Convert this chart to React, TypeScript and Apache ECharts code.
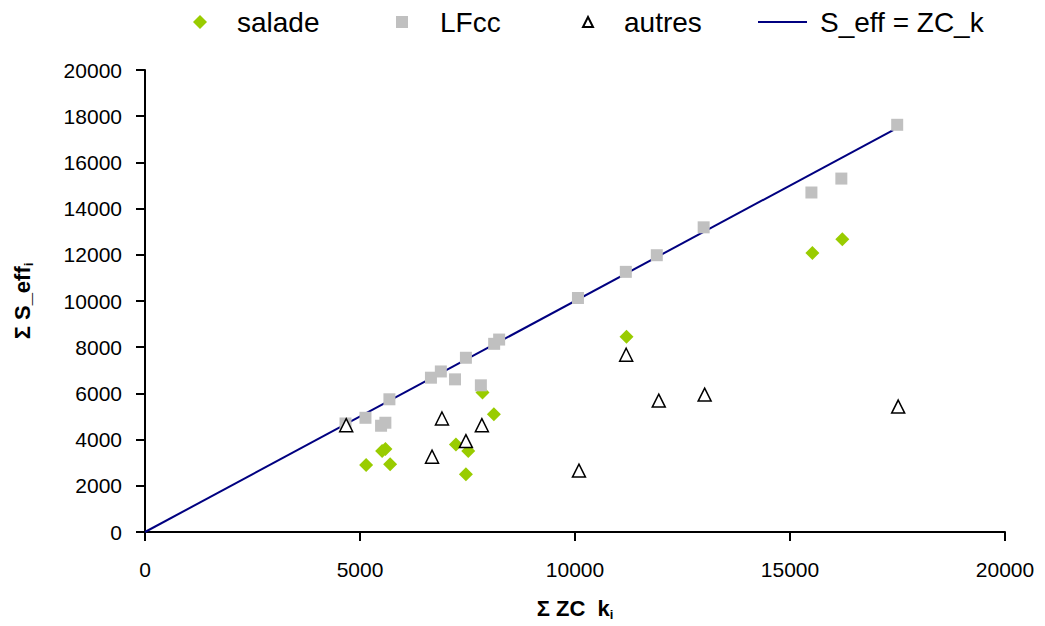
import React, { useEffect, useRef } from "react";
import * as echarts from "echarts";

const saladeData: number[][] = [
  [5143, 2901], [5700, 2931], [5591, 3590], [5514, 3504], [7231, 3793], [7517, 3504],
  [7463, 2500], [8113, 5099], [7849, 6034], [11198, 8448], [16217, 12671], [15521, 12081],
];
const lfccData: number[][] = [
  [4663, 4698], [5127, 4944], [5490, 4600], [5590, 4730], [5684, 5745], [6650, 6680],
  [6880, 6950], [7210, 6608], [7463, 7543], [7811, 6350], [8120, 8146], [8236, 8331],
  [10069, 10130], [11182, 11262], [11902, 11982], [12992, 13189], [15498, 14697],
  [16194, 15300], [17493, 17628],
];
const autresData: number[][] = [
  [4679, 4625], [6906, 4913], [7834, 4625], [7463, 3935], [6675, 3262], [11190, 7672],
  [11948, 5689], [13015, 5948], [17516, 5431], [10092, 2659],
];
const lineData: number[][] = [[0, 0], [17400, 17400]];
const seriesNames = ["salade", "LFcc", "autres", "S_eff = ZC_k"];

const FONT = "'Liberation Sans', Arial, sans-serif";

export default function App() {
  const ref = useRef<HTMLDivElement>(null);
  useEffect(() => {
    if (!ref.current) return;
    const chart = echarts.init(ref.current, undefined, { renderer: "svg" });
    const txt = (pad: number) => ({
      fontFamily: FONT,
      fontSize: 28,
      color: "#000",
      padding: [0, 0, 0, pad],
    });
    const legendBase = { top: 3, selectedMode: false };
    const titleRich = {
      b: { fontFamily: FONT, fontSize: 22, fontWeight: "bold", color: "#000" },
      s: { fontFamily: FONT, fontSize: 13, fontWeight: "bold", color: "#000", padding: [12, 0, 0, 0] },
    };
    chart.setOption({
      animation: false,
      backgroundColor: "#fff",
      textStyle: { fontFamily: FONT },
      legend: [
        { ...legendBase, left: 188, itemWidth: 14, itemHeight: 14, textStyle: txt(25), data: [seriesNames[0]] },
        { ...legendBase, left: 391, itemWidth: 12, itemHeight: 12, textStyle: txt(27), data: [seriesNames[1]] },
        { ...legendBase, left: 577, itemWidth: 10, itemHeight: 10, textStyle: txt(26), data: [seriesNames[2]] },
        {
          ...legendBase,
          left: 753,
          itemWidth: 49,
          itemHeight: 14,
          textStyle: txt(8),
          data: [{ name: seriesNames[3], icon: "path://M0,0H49V2H0Z" }],
        },
      ],
      grid: { left: 145, right: 40, top: 70, bottom: 92 },
      xAxis: {
        type: "value",
        min: 0,
        max: 20000,
        interval: 5000,
        name: "{b|Σ ZC  k}{s|i}",
        nameLocation: "middle",
        nameGap: 64,
        nameTextStyle: { rich: titleRich },
        axisLine: { lineStyle: { color: "#000", width: 2 } },
        axisTick: { length: 9, lineStyle: { color: "#000", width: 2 } },
        axisLabel: {
          fontFamily: FONT,
          fontSize: 21,
          color: "#000",
          margin: 27,
          formatter: (v: number) => String(v),
        },
        splitLine: { show: false },
      },
      yAxis: {
        type: "value",
        min: 0,
        max: 20000,
        interval: 2000,
        name: "{b|Σ S_eff}{s|i}",
        nameLocation: "middle",
        nameRotate: 90,
        nameGap: 110,
        nameTextStyle: { rich: titleRich },
        axisLine: { show: true, lineStyle: { color: "#000", width: 2 } },
        axisTick: { show: true, length: 9, lineStyle: { color: "#000", width: 2 } },
        axisLabel: {
          fontFamily: FONT,
          fontSize: 21,
          color: "#000",
          margin: 23,
          formatter: (v: number) => String(v),
        },
        splitLine: { show: false },
      },
      series: [
        {
          name: seriesNames[0],
          type: "scatter",
          symbol: "diamond",
          symbolSize: 14,
          itemStyle: { color: "#99CC00", opacity: 1 },
          data: saladeData,
          z: 3,
        },
        {
          name: seriesNames[1],
          type: "scatter",
          symbol: "rect",
          symbolSize: 12,
          itemStyle: { color: "#C0C0C0", opacity: 1 },
          data: lfccData,
          z: 4,
        },
        {
          name: seriesNames[2],
          type: "scatter",
          symbol: "triangle",
          symbolSize: [13, 13],
          itemStyle: { color: "#fff", borderColor: "#000", borderWidth: 1.5, opacity: 1 },
          data: autresData,
          z: 5,
        },
        {
          name: seriesNames[3],
          type: "line",
          symbol: "none",
          lineStyle: { color: "#000080", width: 2 },
          itemStyle: { color: "#000080" },
          data: lineData,
          z: 2,
        },
      ],
    });
    return () => chart.dispose();
  }, []);
  return <div ref={ref} style={{ width: 1045, height: 626, position: "absolute", left: 0, top: 0 }} />;
}
